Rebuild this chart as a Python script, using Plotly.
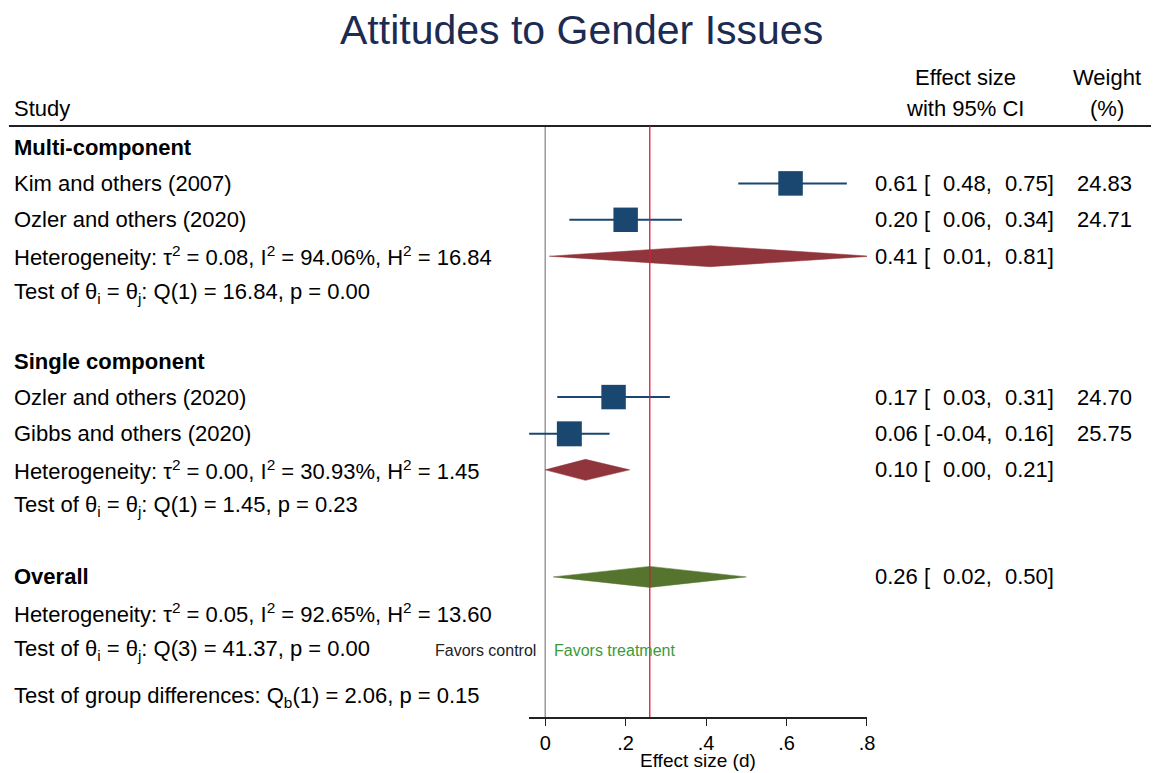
import plotly.graph_objects as go

# ---- study-level data -------------------------------------------------------
study_names = ["Kim and others (2007)", "Ozler and others (2020)",
               "Ozler and others (2020)", "Gibbs and others (2020)"]
study_group = ["Multi-component", "Multi-component",
               "Single component", "Single component"]
effect = [0.61, 0.20, 0.17, 0.06]
ci_low = [0.48, 0.06, 0.03, -0.04]
ci_high = [0.75, 0.34, 0.31, 0.16]
weight_pct = [24.83, 24.71, 24.70, 25.75]

# ---- subgroup summaries -----------------------------------------------------
group_names = ["Multi-component", "Single component"]
group_effect = [0.41, 0.10]
group_low = [0.01, 0.00]
group_high = [0.81, 0.21]
group_tau2 = [0.08, 0.00]
group_i2 = [94.06, 30.93]
group_h2 = [16.84, 1.45]
group_q = [16.84, 1.45]
group_df = [1, 1]
group_p = [0.00, 0.23]

# ---- overall summary --------------------------------------------------------
overall_effect = 0.26
overall_low = 0.02
overall_high = 0.50
overall_tau2 = 0.05
overall_i2 = 92.65
overall_h2 = 13.60
overall_q = 41.37
overall_df = 3
overall_p = 0.00
between_q = 2.06
between_df = 1
between_p = 0.15

tick_vals = [0, 0.2, 0.4, 0.6, 0.8]
tick_text = ["0", ".2", ".4", ".6", ".8"]

# ---- layout constants -------------------------------------------------------
W, H = 1159, 773
FONT = "Arial, 'Liberation Sans', sans-serif"
NAVY = "#1a476f"
MAROON = "#90353b"
OLIVE = "#55752f"
REFRED = "#e0143c"
TXT = 22
AXIS_BOTTOM = 717      # pixel row of the x axis line
HEADER_LINE = 126      # pixel row of the header rule
X_LEFT_PX, X_RIGHT_PX = 532.8, 873.0

# vertical slot (pixel) of each text row, top to bottom
PITCH = 36.4
TOP = 147
slot_index = {
    "g0": 0, "s0": 1, "s1": 2, "het0": 3, "test0": 4,
    "g1": 5.88, "s2": 6.87, "s3": 7.88, "het1": 8.87, "test1": 9.86,
    "overall": 11.81, "het_all": 12.80, "test_all": 13.82, "between": 15.1,
}
Y = {k: TOP + PITCH * v for k, v in slot_index.items()}
study_rows = [Y["s0"], Y["s1"], Y["s2"], Y["s3"]]
group_rows = [Y["het0"], Y["het1"]]
group_head = [Y["g0"], Y["g1"]]
group_test = [Y["test0"], Y["test1"]]
DIAMOND_HALF = 10.5

fig = go.Figure()

# study squares with CI whiskers
fig.add_trace(go.Scatter(
    x=effect, y=study_rows, mode="markers",
    marker=dict(symbol="square", color=NAVY, opacity=1,
                size=[24.5 * (w / 24.8) ** 0.5 for w in weight_pct],
                line=dict(width=0)),
    error_x=dict(type="data", symmetric=False,
                 array=[h - e for h, e in zip(ci_high, effect)],
                 arrayminus=[e - l for e, l in zip(effect, ci_low)],
                 color=NAVY, thickness=2, width=0),
    hoverinfo="skip", showlegend=False,
))


def diamond(es, lo, hi, yc, color):
    fig.add_trace(go.Scatter(
        x=[lo, es, hi, es, lo],
        y=[yc, yc - DIAMOND_HALF, yc, yc + DIAMOND_HALF, yc],
        mode="lines", fill="toself", fillcolor=color,
        line=dict(color=color, width=0.5),
        hoverinfo="skip", showlegend=False,
    ))


for es, lo, hi, yc in zip(group_effect, group_low, group_high, group_rows):
    diamond(es, lo, hi, yc, MAROON)
diamond(overall_effect, overall_low, overall_high, Y["overall"], OLIVE)

# ---- text ---------------------------------------------------------------------
ann = []


def text(px, y, s, anchor="left", size=TXT, color="black", yref="y"):
    ann.append(dict(x=px / W, xref="paper", y=y, yref=yref, text=s,
                    xanchor=anchor, yanchor="middle", showarrow=False,
                    font=dict(family=FONT, size=size, color=color)))


def ci_columns(y, es, lo, hi, w=None):
    text(879, y, f"{es:.2f} [")
    text(1001, y, f"{lo:.2f},", anchor="right")
    text(1063, y, f"{hi:.2f}]", anchor="right")
    if w is not None:
        text(1142, y, f"{w:.2f}", anchor="right")


# header
text(12, 108, "Study")
text(972, 77, "Effect size", anchor="center")
text(972, 108, "with 95% CI", anchor="center")
text(1115, 77, "Weight", anchor="center")
text(1115, 108, "(%)", anchor="center")

for g in range(len(group_names)):
    text(12, group_head[g], f"<b>{group_names[g]}</b>")
    for i in range(len(study_names)):
        if study_group[i] == group_names[g]:
            text(12, study_rows[i], study_names[i])
            ci_columns(study_rows[i], effect[i], ci_low[i], ci_high[i], weight_pct[i])
    text(12, group_rows[g],
         f"Heterogeneity: τ<sup>2</sup> = {group_tau2[g]:.2f}, "
         f"I<sup>2</sup> = {group_i2[g]:.2f}%, H<sup>2</sup> = {group_h2[g]:.2f}")
    ci_columns(group_rows[g], group_effect[g], group_low[g], group_high[g])
    text(12, group_test[g],
         f"Test of θ<sub>i</sub> = θ<sub>j</sub>: Q({group_df[g]}) = "
         f"{group_q[g]:.2f}, p = {group_p[g]:.2f}")

text(12, Y["overall"], "<b>Overall</b>")
ci_columns(Y["overall"], overall_effect, overall_low, overall_high)
text(12, Y["het_all"],
     f"Heterogeneity: τ<sup>2</sup> = {overall_tau2:.2f}, "
     f"I<sup>2</sup> = {overall_i2:.2f}%, H<sup>2</sup> = {overall_h2:.2f}")
text(12, Y["test_all"],
     f"Test of θ<sub>i</sub> = θ<sub>j</sub>: Q({overall_df}) = "
     f"{overall_q:.2f}, p = {overall_p:.2f}")
text(12, Y["between"],
     f"Test of group differences: Q<sub>b</sub>({between_df}) = "
     f"{between_q:.2f}, p = {between_p:.2f}")

text(542, Y["test_all"], "Favors control", anchor="right", size=16, color="#222222")
text(556, Y["test_all"], "Favors treatment", anchor="left", size=16, color="#3a9a3a")

# axis title and chart title (paper coordinates)
text((X_LEFT_PX + X_RIGHT_PX) / 2, 1 - 760 / H, "Effect size (d)",
     anchor="center", size=19, yref="paper")
ann.append(dict(x=586 / W, xref="paper", y=1 - 30 / H, yref="paper",
                text="Attitudes to Gender Issues", showarrow=False,
                xanchor="center", yanchor="middle",
                font=dict(family=FONT, size=41, color="#1c2b52")))

# ---- reference lines and header rule ------------------------------------------
shapes = [
    dict(type="line", xref="paper", yref="y", x0=9 / W, x1=1, y0=HEADER_LINE,
         y1=HEADER_LINE, line=dict(color="#222222", width=2)),
    dict(type="line", xref="x", yref="y", x0=0, x1=0, y0=HEADER_LINE,
         y1=AXIS_BOTTOM, line=dict(color="#9a9a9a", width=1.5), layer="below"),
    dict(type="line", xref="x", yref="y", x0=overall_effect, x1=overall_effect,
         y0=HEADER_LINE, y1=AXIS_BOTTOM, line=dict(color=REFRED, width=1.3),
         layer="above"),
]

fig.update_layout(
    width=W, height=H,
    autosize=False,
    margin=dict(l=0, r=0, t=0, b=0),
    paper_bgcolor="white", plot_bgcolor="white",
    showlegend=False,
    annotations=ann, shapes=shapes,
    xaxis=dict(
        domain=[X_LEFT_PX / W, X_RIGHT_PX / W],
        range=[min(ci_low), max(tick_vals)],
        tickvals=tick_vals, ticktext=tick_text,
        ticks="outside", ticklen=7, tickwidth=1.2, tickcolor="#222222",
        showline=True, linecolor="#222222", linewidth=1.5,
        showgrid=False, zeroline=False,
        tickfont=dict(family=FONT, size=20, color="black"),
        fixedrange=True,
    ),
    yaxis=dict(
        domain=[1 - AXIS_BOTTOM / H, 1],
        range=[AXIS_BOTTOM, 0],
        visible=False, showgrid=False, zeroline=False, fixedrange=True,
    ),
)

# keep the page free of margins and scrollbars so the figure sits at 0,0
page_css = ("document.documentElement.style.margin='0';"
            "document.documentElement.style.overflow='hidden';"
            "document.body.style.margin='0';"
            "document.body.style.overflow='hidden';")

fig.write_html("out.html",
               config={"displayModeBar": False, "responsive": False},
               post_script=page_css)
